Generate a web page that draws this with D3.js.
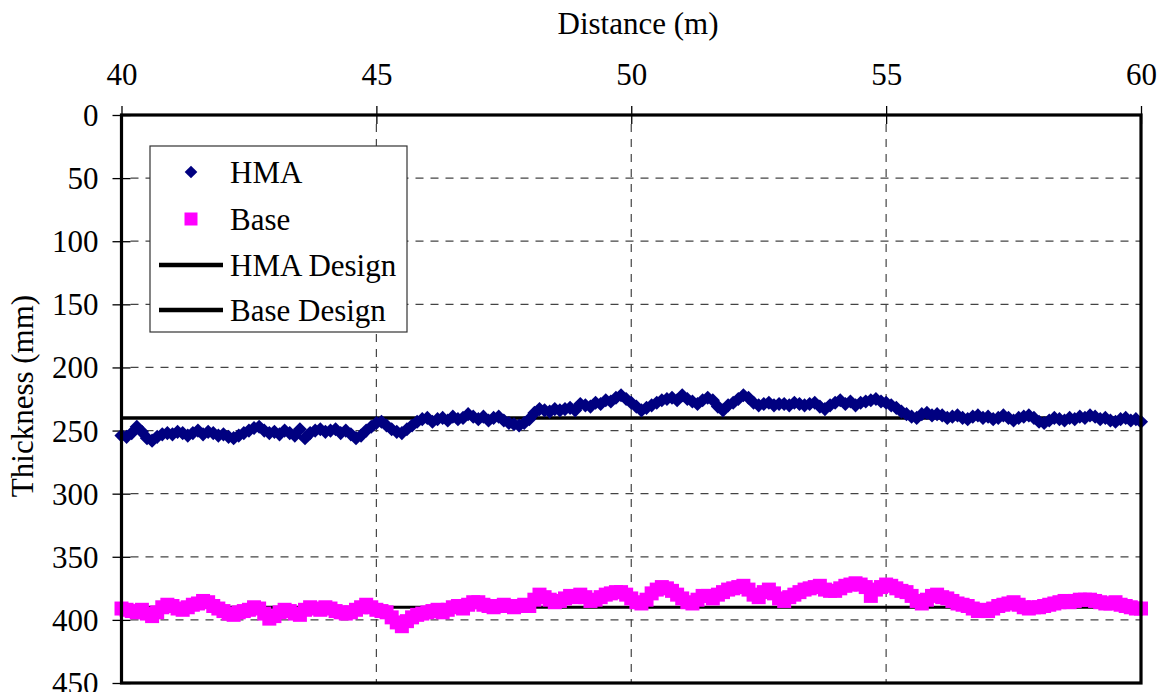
<!DOCTYPE html>
<html lang="en">
<head>
    <meta charset="UTF-8">
    <title>HMA and Base Thickness</title>
    <style>
        body {
            margin: 0;
            background-color: #ffffff;
        }
        svg text {
            font-family: "Liberation Serif", "Times New Roman", serif;
            fill: #000;
        }
        .grid line {
            stroke: #444;
            stroke-width: 1.2px;
            stroke-dasharray: 8 7;
        }
    </style>
</head>
<body>
    <div id="chart"></div>
    <script src="https://d3js.org/d3.v7.min.js"></script>
    <script>
        // Distance stations every 0.1 m
        const distance = d3.range(0, 201).map(i => 40 + i / 10);

        // HMA thickness (mm), one value per station
        const hma = [
            254, 255, 252, 247, 251, 256, 258, 255, 253, 252,
            253, 251, 252, 254, 252, 250, 253, 251, 252, 254,
            253, 255, 256, 254, 252, 250, 248, 247, 250, 252,
            251, 253, 250, 252, 254, 249, 256, 252, 250, 249,
            251, 250, 249, 252, 250, 253, 256, 254, 250, 247,
            244, 243, 246, 249, 251, 252, 249, 246, 243, 241,
            240, 243, 241, 240, 242, 239, 241, 240, 237, 239,
            241, 239, 242, 240, 239, 242, 244, 245, 246, 244,
            241, 236, 233, 234, 235, 233, 234, 233, 232, 234,
            229, 230, 231, 228, 229, 226, 227, 224, 222, 225,
            228, 231, 234, 232, 230, 228, 226, 225, 224, 226,
            222, 225, 227, 229, 226, 224, 226, 231, 234, 230,
            228, 225, 222, 224, 228, 230, 229, 228, 230, 229,
            229, 230, 228, 229, 230, 229, 228, 231, 233, 230,
            228, 226, 229, 227, 230, 228, 227, 226, 225, 227,
            228, 230, 232, 235, 237, 239, 240, 237, 236, 238,
            237, 238, 240, 239, 238, 240, 241, 239, 238, 240,
            239, 241, 240, 238, 240, 242, 240, 239, 238, 240,
            243, 244, 242, 240, 241, 242, 240, 241, 239, 240,
            238, 239, 241, 240, 242, 243, 241, 240, 242, 241,
            243
        ];

        // Base thickness (mm)
        const base = [
            391, 392, 393, 394, 392, 395, 397, 394, 390, 388,
            389, 391, 392, 390, 388, 387, 385, 386, 389, 391,
            393, 395, 396, 394, 393, 392, 390, 391, 395, 399,
            397, 394, 392, 393, 395, 396, 392, 390, 391, 392,
            390, 391, 393, 394, 395, 394, 392, 390, 388, 390,
            392, 393, 394, 398, 402, 405, 401, 398, 396, 395,
            394, 393, 392, 394, 392, 390, 389, 391, 388, 386,
            386, 388, 389, 390, 389, 388, 389, 390, 389, 388,
            389, 384, 380, 382, 384, 386, 385, 383, 381, 382,
            380, 382, 385, 384, 382, 380, 379, 378, 378, 380,
            383, 386, 387, 384, 379, 376, 374, 375, 377, 380,
            383, 386, 387, 384, 381, 381, 383, 380, 378, 376,
            375, 374, 373, 376, 380, 382, 378, 376, 379, 383,
            385, 382, 380, 378, 376, 375, 374, 373, 376, 377,
            377, 375, 373, 372, 371, 372, 374, 381, 376, 374,
            372, 373, 375, 377, 378, 381, 385, 387, 384, 381,
            380, 382, 383, 385, 387, 388, 389, 391, 393, 392,
            393, 391, 389, 388, 387, 386, 388, 390, 391, 390,
            390, 389, 388, 387, 386, 385, 386, 385, 384, 384,
            384, 385, 386, 387, 387, 386, 388, 389, 390, 391,
            391
        ];

        const hmaDesign = 240;
        const baseDesign = 390;

        const xTicks = [40, 45, 50, 55, 60];
        const yTicks = [0, 50, 100, 150, 200, 250, 300, 350, 400, 450];

        const width = 1168;
        const height = 692;
        const plotLeft = 121.5, plotRight = 1141, plotTop = 115, plotBottom = 683;
        const fontSize = 31;

        const svg = d3.select("#chart").append("svg")
            .attr("width", width)
            .attr("height", height);

        const x = d3.scaleLinear().domain([40, 60]).range([plotLeft, plotRight]);
        const y = d3.scaleLinear().domain([0, 450]).range([plotTop, plotBottom]);

        // dashed grid
        const grid = svg.append("g").attr("class", "grid");
        grid.selectAll(".h")
            .data(yTicks.filter(d => d > 0 && d < 450))
            .enter().append("line")
            .attr("x1", plotLeft + 9).attr("x2", plotRight)
            .attr("y1", d => y(d)).attr("y2", d => y(d));
        grid.selectAll(".v")
            .data(xTicks.filter(d => d > 40 && d < 60))
            .enter().append("line")
            .attr("x1", d => x(d)).attr("x2", d => x(d))
            .attr("y1", plotTop + 9).attr("y2", plotBottom);

        // axes, ticks cross the frame
        const xAxis = svg.append("g")
            .attr("transform", `translate(0,${plotTop})`)
            .call(d3.axisTop(x).tickValues(xTicks).tickSize(9).tickSizeOuter(0).tickPadding(21));
        xAxis.selectAll(".tick line").attr("y1", 9);
        const yAxis = svg.append("g")
            .attr("transform", `translate(${plotLeft},0)`)
            .call(d3.axisLeft(y).tickValues(yTicks).tickSize(9).tickSizeOuter(0).tickPadding(14));
        yAxis.selectAll(".tick line").attr("x1", 9);
        svg.selectAll(".domain").remove();
        svg.selectAll(".tick line").attr("stroke", "#000").attr("stroke-width", 1.3);
        svg.selectAll(".tick text")
            .attr("font-size", fontSize)
            .attr("fill", "#000");
        yAxis.selectAll(".tick text").attr("dy", "0.34em");

        // design lines
        svg.append("line")
            .attr("x1", x(40)).attr("x2", x(60))
            .attr("y1", y(hmaDesign)).attr("y2", y(hmaDesign))
            .attr("stroke", "#000").attr("stroke-width", 3.5);
        svg.append("line")
            .attr("x1", x(40)).attr("x2", x(60))
            .attr("y1", y(baseDesign)).attr("y2", y(baseDesign))
            .attr("stroke", "#000").attr("stroke-width", 3);

        // series
        const diamond = d3.symbol().type(d3.symbolSquare).size(100);
        const square = d3.symbol().type(d3.symbolSquare).size(196);
        const legendDiamond = d3.symbol().type(d3.symbolSquare).size(80);

        svg.append("g").selectAll("path")
            .data(base)
            .enter().append("path")
            .attr("d", square)
            .attr("transform", (d, i) => `translate(${x(distance[i])},${y(d)})`)
            .attr("fill", "#ff00ff");

        svg.append("g").selectAll("path")
            .data(hma)
            .enter().append("path")
            .attr("d", diamond)
            .attr("transform", (d, i) => `translate(${x(distance[i])},${y(d)}) rotate(45)`)
            .attr("fill", "#000080");

        // frame
        svg.append("rect")
            .attr("x", plotLeft).attr("y", plotTop)
            .attr("width", plotRight - plotLeft).attr("height", plotBottom - plotTop)
            .attr("fill", "none")
            .attr("stroke", "#000")
            .attr("stroke-width", 3.2);

        // titles
        svg.append("text")
            .attr("x", 638).attr("y", 34)
            .attr("text-anchor", "middle")
            .attr("font-size", fontSize)
            .text("Distance (m)");
        svg.append("text")
            .attr("transform", `translate(33,${(plotTop + plotBottom) / 2 - 3}) rotate(-90)`)
            .attr("text-anchor", "middle")
            .attr("font-size", fontSize)
            .text("Thickness (mm)");

        // legend
        const legend = svg.append("g");
        legend.append("rect")
            .attr("x", 150).attr("y", 146)
            .attr("width", 257).attr("height", 186)
            .attr("fill", "#fff")
            .attr("stroke", "#333")
            .attr("stroke-width", 1.2);

        const items = [
            { label: "HMA", kind: "diamond", y: 172 },
            { label: "Base", kind: "square", y: 219 },
            { label: "HMA Design", kind: "line", y: 265 },
            { label: "Base Design", kind: "line", y: 310 }
        ];
        items.forEach(it => {
            if (it.kind === "diamond") {
                legend.append("path")
                    .attr("d", legendDiamond)
                    .attr("transform", `translate(191,${it.y}) rotate(45)`)
                    .attr("fill", "#000080");
            } else if (it.kind === "square") {
                legend.append("path")
                    .attr("d", d3.symbol().type(d3.symbolSquare).size(169))
                    .attr("transform", `translate(191,${it.y})`)
                    .attr("fill", "#ff00ff");
            } else {
                legend.append("line")
                    .attr("x1", 159).attr("x2", 223)
                    .attr("y1", it.y).attr("y2", it.y)
                    .attr("stroke", "#000")
                    .attr("stroke-width", 4.5);
            }
            legend.append("text")
                .attr("x", 230).attr("y", it.y)
                .attr("dy", "0.35em")
                .attr("font-size", fontSize)
                .text(it.label);
        });
    </script>
</body>
</html>
